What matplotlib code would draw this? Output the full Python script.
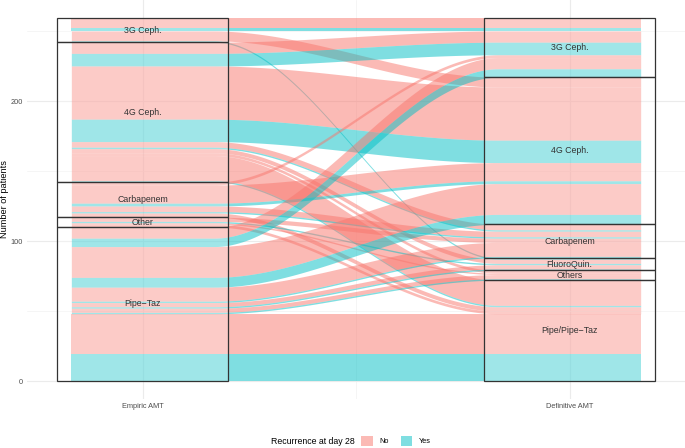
import numpy as np
import matplotlib.pyplot as plt
from matplotlib.patches import Patch, Rectangle

plt.rcParams["font.family"] = ["Liberation Sans", "DejaVu Sans"]

# axes of the alluvial plot
axis_names = ["Empiric AMT", "Definitive AMT"]
empiric_levels = ["3G Ceph.", "4G Ceph.", "Carbapenem", "Other", "Pipe\u2212Taz"]
definitive_levels = ["3G Ceph.", "4G Ceph.", "Carbapenem", "FluoroQuin.", "Others", "Pipe/Pipe\u2212Taz"]
recurrence_levels = ["No", "Yes"]
recurrence_colors = ["#F8766D", "#00BFC4"]

# one entry per alluvium (empiric -> definitive, recurrence, patients)
flow_empiric = (
    ["3G Ceph."] * 4
    + ["4G Ceph."] * 10
    + ["Carbapenem"] * 6
    + ["Other"] * 4
    + ["Pipe\u2212Taz"] * 12
)
flow_definitive = [
    "3G Ceph.", "3G Ceph.", "4G Ceph.", "FluoroQuin.",
    "3G Ceph.", "3G Ceph.", "4G Ceph.", "4G Ceph.", "Carbapenem", "Carbapenem",
    "FluoroQuin.", "Others", "Pipe/Pipe\u2212Taz", "Pipe/Pipe\u2212Taz",
    "3G Ceph.", "4G Ceph.", "4G Ceph.", "Carbapenem", "Carbapenem", "Pipe/Pipe\u2212Taz",
    "Carbapenem", "FluoroQuin.", "Others", "Pipe/Pipe\u2212Taz",
    "3G Ceph.", "3G Ceph.", "4G Ceph.", "4G Ceph.", "Carbapenem", "Carbapenem",
    "FluoroQuin.", "FluoroQuin.", "Others", "Others", "Pipe/Pipe\u2212Taz", "Pipe/Pipe\u2212Taz",
]
flow_recurrence = [
    "No", "Yes", "No", "Yes",
    "No", "Yes", "No", "Yes", "No", "Yes", "No", "No", "No", "Yes",
    "No", "No", "Yes", "No", "Yes", "No",
    "No", "Yes", "No", "No",
    "No", "Yes", "No", "Yes", "No", "Yes", "No", "Yes", "No", "Yes", "No", "Yes",
]
flow_count = [
    7, 2, 7, 1,
    8, 9, 38, 16, 4, 1, 3, 2, 18, 1,
    2, 13, 2, 4, 1, 3,
    3, 1, 1, 2,
    8, 6, 22, 7, 10, 1, 3, 1, 3, 1, 29, 19,
]

stratum_width = 0.4
alluvium_width = 1 / 3


def stack(own, other, own_levels, other_levels):
    total = sum(flow_count)
    order = sorted(
        range(len(flow_count)),
        key=lambda i: (own_levels.index(own[i]), other_levels.index(other[i]),
                       recurrence_levels.index(flow_recurrence[i])),
    )
    tops = np.zeros(len(flow_count))
    y = total
    for i in order:
        tops[i] = y
        y -= flow_count[i]
    return tops


def strata(own, levels):
    total = sum(flow_count)
    spans = []
    y = total
    for level in levels:
        size = sum(c for s, c in zip(own, flow_count) if s == level)
        spans.append((level, y - size, y))
        y -= size
    return spans


fig = plt.figure(figsize=(6.85, 4.48), dpi=100)
ax = fig.add_axes([27 / 685, 49 / 448, 658 / 685, 399 / 448])

left_tops = stack(flow_empiric, flow_definitive, empiric_levels, definitive_levels)
right_tops = stack(flow_definitive, flow_empiric, definitive_levels, empiric_levels)

x0 = 1 + alluvium_width / 2
x1 = 2 - alluvium_width / 2
xs = np.linspace(x0, x1, 80)
t = (xs - x0) / (x1 - x0)
s = t * t * (3 - 2 * t)
x_full = np.concatenate([[1 - alluvium_width / 2], xs, [2 + alluvium_width / 2]])

for i, n in enumerate(flow_count):
    upper = left_tops[i] + (right_tops[i] - left_tops[i]) * s
    upper = np.concatenate([[left_tops[i]], upper, [right_tops[i]]])
    color = recurrence_colors[recurrence_levels.index(flow_recurrence[i])]
    ax.fill_between(x_full, upper - n, upper, color=color, alpha=0.5, linewidth=0)

for xpos, own, levels in [(1, flow_empiric, empiric_levels), (2, flow_definitive, definitive_levels)]:
    for level, bottom, top in strata(own, levels):
        ax.add_patch(Rectangle((xpos - stratum_width / 2, bottom), stratum_width, top - bottom,
                               facecolor=(1, 1, 1, 0.25), edgecolor="#333333", linewidth=0.9))
        ax.text(xpos, (bottom + top) / 2, level, ha="center", va="center", fontsize=6.3, color="#333333")

ax.set_xlim(1 - 115.5 / 427, 1 + 542.5 / 427)
ax.set_ylim(-18 / 1.4, 381 / 1.4)
ax.set_xticks([1, 2], labels=axis_names)
ax.set_xticks([1.5], minor=True)
ax.set_yticks([0, 100, 200])
ax.set_yticks([50, 150, 250], minor=True)
ax.grid(which="major", color="#EBEBEB", linewidth=0.8)
ax.grid(which="minor", color="#F2F2F2", linewidth=0.5)
ax.set_axisbelow(True)
for side in ax.spines.values():
    side.set_visible(False)
ax.tick_params(which="both", length=0, labelsize=5.3, labelcolor="#4D4D4D", pad=3)
ax.set_ylabel("Number of patients", fontsize=6.6)
ax.yaxis.set_label_coords(-18 / 658, 0.5)

fig.text(355 / 685, 7 / 448, "Recurrence at day 28", ha="right", va="center", fontsize=6.3)
handles = [Patch(facecolor=c, alpha=0.5, edgecolor="none") for c in recurrence_colors]
fig.legend(handles, recurrence_levels, ncol=2, loc="center left", bbox_to_anchor=(358 / 685, 7 / 448),
           frameon=False, fontsize=5.3, handlelength=1.6, handleheight=1.6,
           handletextpad=0.9, columnspacing=1.6, borderaxespad=0)

fig.savefig("out.png", dpi=100)
